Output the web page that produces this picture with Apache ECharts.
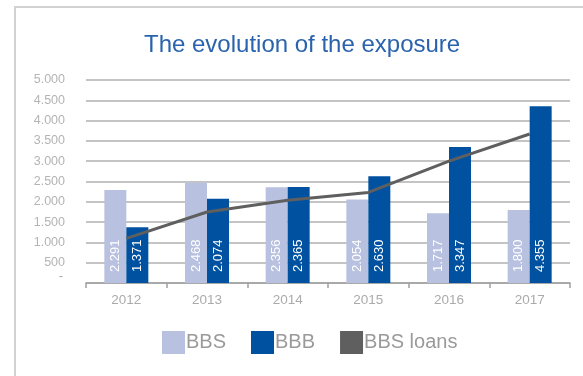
<!DOCTYPE html>
<html>
<head>
<meta charset="utf-8">
<script src="https://cdn.jsdelivr.net/npm/echarts@6/dist/echarts.min.js"></script>
<style>
  html, body { margin: 0; padding: 0; background: #fff; }
  #chart { width: 583px; height: 376px; }
</style>
</head>
<body>
<div id="chart"></div>
<script>
// Exposure by year (thousands)
const years = ['2012', '2013', '2014', '2015', '2016', '2017'];
const bbs = [2291, 2468, 2356, 2054, 1717, 1800];
const bbb = [1371, 2074, 2365, 2630, 3347, 4355];
const bbsLoans = [1100, 1750, 2040, 2230, 3000, 3670];

const FONT = '"Liberation Sans", Arial, sans-serif';

// Dot as thousands separator
function fmt(v) {
  return String(v).replace(/\B(?=(\d{3})+(?!\d))/g, '.');
}

// Y-axis labels: dash for zero, raised a little
function yFmt(v) {
  return v === 0 ? '{z|-}' : fmt(v);
}

const chart = echarts.init(document.getElementById('chart'), null, { renderer: 'canvas' });

const barLabel = {
  show: true,
  position: 'insideBottom',
  rotate: 90,
  align: 'left',
  verticalAlign: 'middle',
  distance: 11,
  color: '#ffffff',
  fontFamily: FONT,
  fontSize: 13,
  formatter: p => fmt(p.value)
};

chart.setOption({
  animation: false,
  textStyle: { fontFamily: FONT },
  graphic: [{
    type: 'rect',
    shape: { x: 15, y: 7, width: 600, height: 400 },
    style: { fill: 'none', stroke: '#d2d2d2', lineWidth: 2 },
    silent: true,
    z: -10
  }],
  title: {
    text: 'The evolution of the exposure',
    left: 139,
    top: 28,
    textStyle: { color: '#2a63ad', fontSize: 24, fontWeight: 'normal', fontFamily: FONT }
  },
  legend: {
    top: 326,
    left: 157,
    itemWidth: 23,
    itemHeight: 23,
    itemGap: 25,
    icon: 'rect',
    textStyle: { color: '#9a9a9a', fontSize: 20, fontFamily: FONT, padding: [0, 0, 0, -4] },
    data: ['BBS', 'BBB', 'BBS loans']
  },
  grid: { left: 86, right: 13, top: 80, bottom: 93 },
  xAxis: {
    type: 'category',
    data: years,
    axisLine: { lineStyle: { color: '#a0a0a0', width: 1.5 } },
    axisTick: { show: true, length: 5, lineStyle: { color: '#a0a0a0', width: 1.5 } },
    axisLabel: { color: '#ababab', fontSize: 13.5, margin: 10 },
    splitLine: { show: false }
  },
  yAxis: {
    type: 'value',
    min: 0,
    max: 5000,
    interval: 500,
    axisLine: { show: false },
    axisTick: { show: false },
    axisLabel: {
      color: '#b4b4b4',
      fontSize: 12.5,
      margin: 21,
      formatter: yFmt,
      rich: { z: { color: '#a8a8a8', fontSize: 13, padding: [0, 2, 14, 0] } }
    },
    splitLine: { lineStyle: { color: '#b0b0b0', width: 1.5 } }
  },
  series: [
    {
      name: 'BBS',
      type: 'bar',
      data: bbs,
      barWidth: 22,
      barGap: '0%',
      itemStyle: { color: '#b9c1e0' },
      label: barLabel
    },
    {
      name: 'BBB',
      type: 'bar',
      data: bbb,
      barWidth: 22,
      barGap: '0%',
      itemStyle: { color: '#0052a0' },
      label: barLabel
    },
    {
      name: 'BBS loans',
      type: 'line',
      data: bbsLoans,
      symbol: 'none',
      lineStyle: { color: '#5f5f5f', width: 3 },
      itemStyle: { color: '#5f5f5f' },
      z: 5
    }
  ]
});
</script>
</body>
</html>
